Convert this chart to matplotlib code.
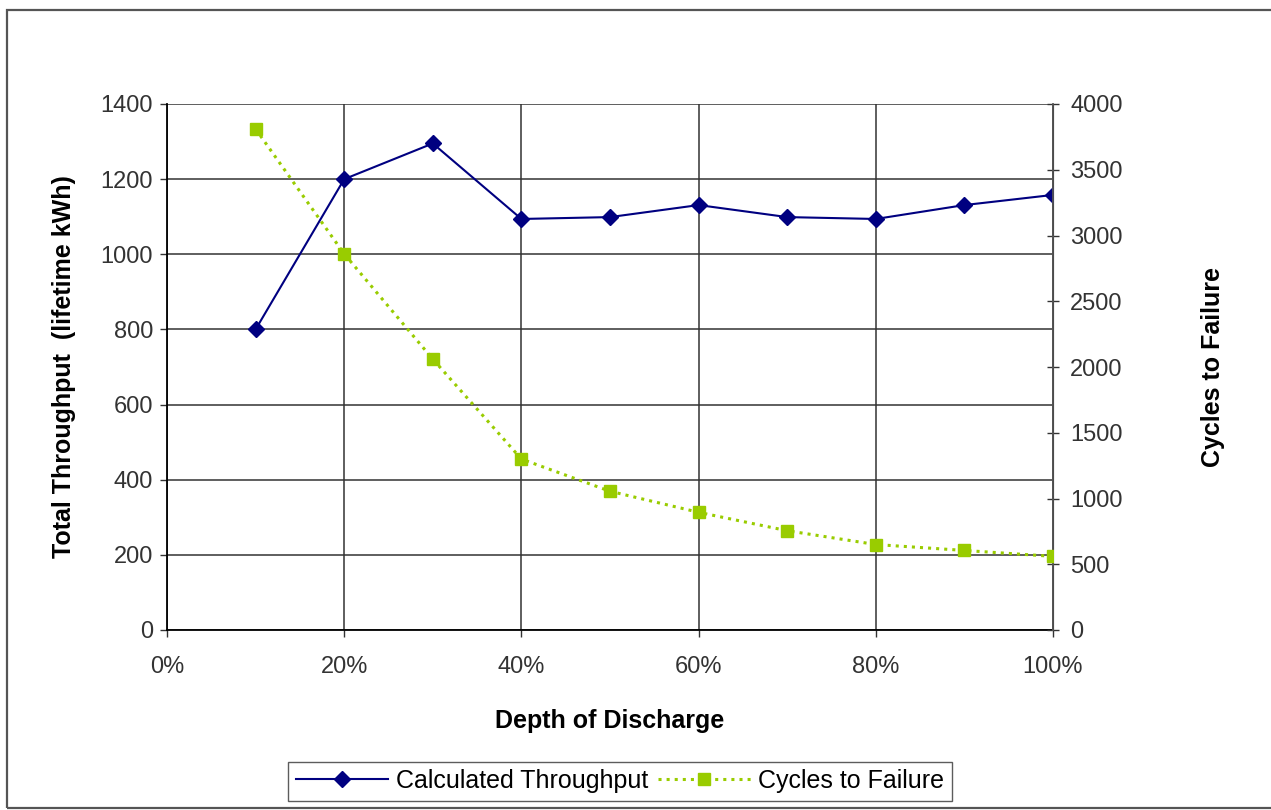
import matplotlib
matplotlib.use('Agg')
from matplotlib import pyplot as plt
from matplotlib.patches import Rectangle
from matplotlib.ticker import FuncFormatter

# data
depth = [0.1, 0.2, 0.3, 0.4, 0.5, 0.6, 0.7, 0.8, 0.9, 1.0]
throughput = [800, 1200, 1295, 1094, 1099, 1131, 1099, 1094, 1131, 1158]
cycles = [3810, 2860, 2060, 1300, 1055, 895, 755, 650, 605, 560]

x_ticks = [0, 0.2, 0.4, 0.6, 0.8, 1.0]
left_ticks = list(range(0, 1401, 200))
right_ticks = list(range(0, 4001, 500))

plt.rcParams['font.family'] = ['Liberation Sans', 'DejaVu Sans']

fig = plt.figure(figsize=(12.71, 8.10), dpi=100)
ax = fig.add_axes([167 / 1271, 180 / 810, 886 / 1271, 526 / 810])
ax2 = ax.twinx()

# frame round the whole picture
fig.patches.append(Rectangle((7 / 1271, 2 / 810), 1.2, 798 / 810, transform=fig.transFigure,
                             fill=False, edgecolor='#555555', linewidth=1.6))

l1, = ax.plot(depth, throughput, '-D', color='#000080', markersize=8, linewidth=1.5,
              label='Calculated Throughput', zorder=5)
l2, = ax2.plot(depth, cycles, ':s', color='#99cc00', markersize=8.5, linewidth=2.2,
               label='Cycles to Failure', zorder=4)

ax.set_xlim(0, 1.0)
ax.set_ylim(0, 1400)
ax2.set_ylim(0, 4000)
ax.set_xticks(x_ticks)
ax.set_yticks(left_ticks)
ax2.set_yticks(right_ticks)
ax.xaxis.set_major_formatter(FuncFormatter(lambda v, p: f"{v * 100:.0f}%"))

ax.grid(True, color='#333333', linewidth=1.1)
ax.set_axisbelow(True)

ax.spines['top'].set_visible(False)
ax2.spines['top'].set_visible(False)
ax.spines['left'].set_linewidth(1.3)
ax.spines['bottom'].set_linewidth(1.3)
ax2.spines['right'].set_color('#555555')
ax2.spines['right'].set_linewidth(1.3)
ax2.spines['left'].set_visible(False)
ax2.spines['bottom'].set_visible(False)

ax.tick_params(axis='both', labelsize=17, colors='#333333', length=5, width=1, pad=5)
ax.tick_params(axis='x', pad=14)
ax2.tick_params(axis='y', labelsize=17, colors='#333333', direction='inout', length=9, width=1, pad=8)

ax.set_xlabel('Depth of Discharge', fontsize=18, fontweight='bold', labelpad=22)
ax.set_ylabel('Total Throughput  (lifetime kWh)', fontsize=18, fontweight='bold', labelpad=18)
ax2.set_ylabel('Cycles to Failure', fontsize=18, fontweight='bold', labelpad=56)

leg = fig.legend([l1, l2], ['Calculated Throughput', 'Cycles to Failure'], loc='center',
                 bbox_to_anchor=(620 / 1271, 1 - 781 / 810), ncol=2, fontsize=18,
                 frameon=True, fancybox=False, edgecolor='#333333', handlelength=3.7,
                 columnspacing=0.4, handletextpad=0.3, borderpad=0.3)
leg.get_frame().set_linewidth(1.0)

fig.savefig('out.png', dpi=100)
